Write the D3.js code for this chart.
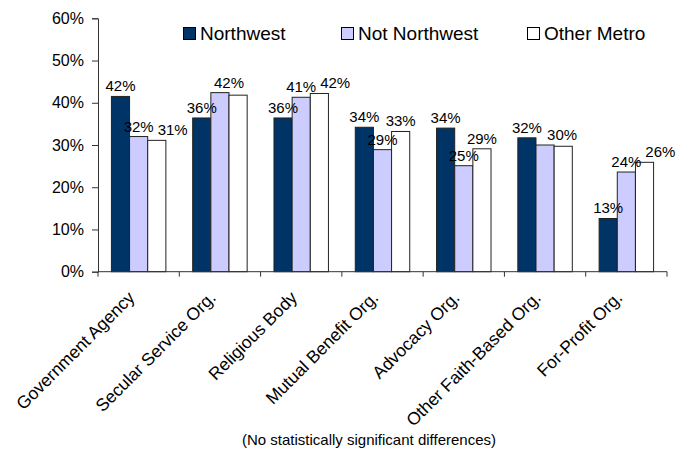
<!DOCTYPE html>
<html>
<head>
<meta charset="utf-8">
<script src="https://cdn.jsdelivr.net/npm/d3@7"></script>
<style>
  html, body { margin: 0; padding: 0; background: #fff; }
  svg { display: block; font-family: "Liberation Sans", Arial, sans-serif; }
</style>
</head>
<body>
<svg id="chart" width="676" height="450"></svg>
<script>
const categories = ["Government Agency", "Secular Service Org.", "Religious Body", "Mutual Benefit Org.", "Advocacy Org.", "Other Faith-Based Org.", "For-Profit Org."];
const seriesNames = ["Northwest", "Not Northwest", "Other Metro"];
const northwest    = [41.5, 36.4, 36.4, 34.2, 34.0, 31.7, 12.6];
const notNorthwest = [32.0, 42.4, 41.3, 28.9, 25.1, 30.0, 23.6];
const otherMetro   = [31.1, 41.8, 42.2, 33.2, 29.1, 29.7, 25.9];
const yTicks = [0, 10, 20, 30, 40, 50, 60];
const footnote = "(No statistically significant differences)";

const seriesValues = [northwest, notNorthwest, otherMetro];
const colors = ["#003366", "#CCCCFF", "#FFFFFF"];

const svg = d3.select("#chart");
const plotLeft = 98, plotRight = 667, plotTop = 18.3, plotBottom = 271.7;

const y = d3.scaleLinear().domain([0, 60]).range([plotBottom, plotTop]);
const x0 = d3.scaleBand().domain(categories).range([plotLeft, plotRight]).padding(0);
const pad = x0.bandwidth() * 0.165;
const x1 = d3.scaleBand().domain(seriesNames).range([pad, x0.bandwidth() - pad]).padding(0);

// Bars
const data = [];
categories.forEach((c, ci) => {
  seriesNames.forEach((s, si) => {
    data.push({cat: c, ci, series: s, si, value: seriesValues[si][ci]});
  });
});

svg.append("g").selectAll("rect").data(data).join("rect")
  .attr("x", d => x0(d.cat) + x1(d.series))
  .attr("y", d => y(d.value))
  .attr("width", x1.bandwidth())
  .attr("height", d => y(0) - y(d.value))
  .attr("fill", d => colors[d.si])
  .attr("stroke", "#222")
  .attr("stroke-width", 1);

// Y axis
const yAxis = svg.append("g").attr("transform", `translate(${plotLeft},0)`)
  .call(d3.axisLeft(y).tickValues(yTicks).tickSize(6).tickPadding(8).tickFormat(d => d + "%"));
yAxis.select(".domain").attr("stroke", "#333");
yAxis.selectAll(".tick line").attr("stroke", "#333");
yAxis.selectAll("text").attr("font-size", 16).attr("fill", "#000")
  .attr("font-family", "'Liberation Sans', Arial, sans-serif");

// X axis line and ticks at category boundaries
const xAxisG = svg.append("g");
xAxisG.append("line").attr("x1", plotLeft).attr("x2", plotRight).attr("y1", plotBottom).attr("y2", plotBottom)
  .attr("stroke", "#333");
const boundaries = categories.map(c => x0(c)).concat([x0(categories[categories.length - 1]) + x0.bandwidth()]);
xAxisG.selectAll("line.tk").data(boundaries).join("line").attr("class", "tk")
  .attr("x1", d => d).attr("x2", d => d).attr("y1", plotBottom).attr("y2", plotBottom + 5)
  .attr("stroke", "#333");

// Category labels, rotated
svg.append("g").selectAll("text").data(categories).join("text")
  .attr("transform", c => `translate(${x0(c) + x0.bandwidth() / 2 - 3},${plotBottom + 27}) rotate(-45)`)
  .attr("text-anchor", "end")
  .attr("font-size", 17.5)
  .attr("fill", "#000")
  .text(c => c);

// Data labels: centred above bars; overlapping identical labels merge, others shift right
const fs = 15;
const labelG = svg.append("g");
categories.forEach((c, ci) => {
  const placed = [];
  seriesNames.forEach((s, si) => {
    const v = seriesValues[si][ci];
    const txt = Math.round(v) + "%";
    const cx = x0(c) + x1(s) + x1.bandwidth() / 2;
    const base = y(v) - 5;
    placed.push({txt, cx, base});
  });
  const out = [];
  placed.forEach(p => {
    const prev = out[out.length - 1];
    const w = 30;
    if (prev) {
      const overlapX = (p.cx - w / 2) < (prev.cx + w / 2);
      const overlapY = Math.abs(p.base - prev.base) < 11;
      if (overlapX && overlapY) {
        if (prev.txt === p.txt) {
          prev.cx = (prev.cx + p.cx) / 2;
          prev.base = Math.min(prev.base, p.base);
          return;
        }
        p.cx = prev.cx + w + 4;
      }
    }
    out.push(p);
  });
  out.forEach(p => {
    labelG.append("text")
      .attr("x", p.cx).attr("y", p.base)
      .attr("font-size", fs)
      .attr("fill", "#000")
      .attr("text-anchor", "middle")
      .text(p.txt);
  });
});

// Legend
const legendX = [183, 341, 527];
const lg = svg.append("g");
seriesNames.forEach((s, i) => {
  lg.append("rect").attr("x", legendX[i] + 0.5).attr("y", 27.5).attr("width", 12).attr("height", 12)
    .attr("fill", colors[i]).attr("stroke", "#000").attr("stroke-width", 1);
  lg.append("text").attr("x", legendX[i] + 17).attr("y", 40)
    .attr("font-size", 19).attr("fill", "#000").text(s);
});

// Footnote
svg.append("text").attr("x", 369).attr("y", 445).attr("text-anchor", "middle")
  .attr("font-size", 15).attr("fill", "#000").text(footnote);
</script>
</body>
</html>
